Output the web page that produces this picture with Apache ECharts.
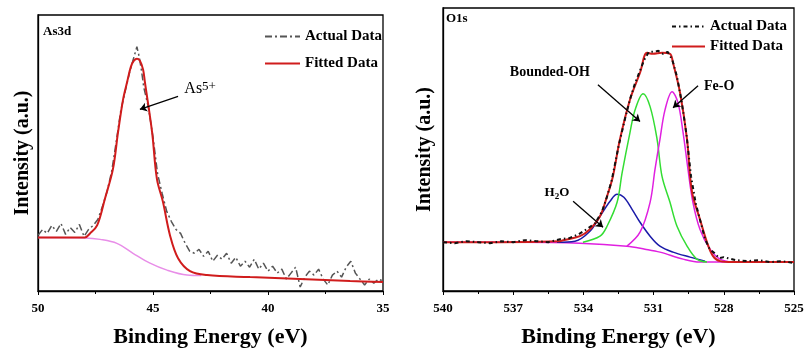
<!DOCTYPE html>
<html><head><meta charset="utf-8">
<script src="https://cdn.jsdelivr.net/npm/echarts@6/dist/echarts.min.js"></script>
<style>html,body{margin:0;padding:0;background:#fff}#c{width:808px;height:353px}</style>
</head><body><div id="c"></div>
<script>
// ---------- Left panel: As3d ----------
const asXTicks = [50, 45, 40, 35];
const asFitted = [[50.00,54],[48.61,54],[47.96,54],[47.74,58],[47.43,66],[47.09,93],[46.74,123],[46.52,160],[46.30,193],[46.13,210],[45.96,226],[45.83,232],[45.70,234],[45.57,232],[45.43,223],[45.35,210],[45.04,160],[44.83,113],[44.57,90],[44.26,56],[43.91,33],[43.39,20],[42.65,16],[40.78,14],[38.61,12],[36.43,10],[35.00,9]];
const asBackground = [[50.00,54],[47.96,53.5],[47.30,52],[46.57,48],[45.87,38],[45.13,28],[44.39,21],[43.52,16],[42.9,15.5]];
const asActual = [[50.0,56],[49.8,62],[49.6,58],[49.4,66],[49.2,60],[49.0,68],[48.8,57],[48.6,64],[48.4,59],[48.2,67],[48.0,55],[47.8,62],[47.6,66],[47.4,72],[47.2,85],[47.0,100],[46.8,120],[46.6,150],[46.4,182],[46.2,202],[46.0,222],[45.9,230],[45.8,238],[45.7,246],[45.6,236],[45.5,222],[45.4,205],[45.2,185],[45.0,155],[44.8,118],[44.6,98],[44.4,80],[44.2,70],[44.0,62],[43.8,58],[43.6,48],[43.4,40],[43.2,38],[43.0,42],[42.8,35],[42.6,40],[42.4,30],[42.2,36],[42.0,32],[41.8,38],[41.6,28],[41.4,34],[41.2,25],[41.0,30],[40.8,24],[40.6,32],[40.4,22],[40.2,28],[40.0,20],[39.8,25],[39.6,18],[39.4,22],[39.2,12],[39.0,18],[38.8,24],[38.6,4],[38.4,14],[38.2,20],[38.0,16],[37.8,22],[37.6,12],[37.4,6],[37.2,16],[37.0,20],[36.8,14],[36.6,24],[36.4,30],[36.2,18],[36.0,12],[35.8,6],[35.6,12],[35.4,8],[35.2,12],[35.0,10]];

// ---------- Right panel: O1s ----------
const oXTicks = [540, 537, 534, 531, 528, 525];
const oFitted = [[540,49],[537.56,49],[535.0,50],[534.87,51],[534.15,55],[533.72,62],[533.29,75],[532.99,95],[532.74,115],[532.44,152],[532.01,192],[531.58,219],[531.28,239],[531.03,238],[530.64,239],[530.30,238],[530.17,229],[529.87,199],[529.57,152],[529.44,115],[529.32,95],[529.02,72],[528.72,49],[528.46,35],[528.16,30],[527.61,29],[525,29]];
const oBackground = [[540,49],[536.71,49],[534.15,48],[532.14,45],[531.37,42],[530.73,39],[529.74,32],[529.02,29],[528.16,29],[525,29]];
const oH2O = [[535.13,49],[534.36,50],[533.72,60],[533.29,75],[532.86,90],[532.56,97],[532.27,94],[531.92,82],[531.58,69],[531.15,55],[530.73,45],[530.17,39],[529.44,34],[528.80,30]];
const oOH = [[534.02,49],[533.29,55],[532.99,65],[532.56,89],[532.35,118],[532.01,159],[531.79,182],[531.45,198],[531.15,185],[530.85,152],[530.64,115],[530.30,89],[530.00,65],[529.57,45],[529.15,32],[528.72,29]];
const oFeO = [[532.14,45],[531.58,59],[531.15,89],[530.94,122],[530.73,152],[530.51,182],[530.21,200],[529.96,189],[529.74,159],[529.53,122],[529.32,89],[529.02,62],[528.59,42],[528.16,32],[527.61,29]];
const oActual = [[540,49],[539.5,48],[539,50],[538.5,49],[538,48],[537.5,50],[537,49],[536.5,51],[536,50],[535.5,49],[535,52],[534.6,53],[534.2,57],[533.8,63],[533.5,68],[533.2,80],[533.0,94],[532.8,110],[532.5,145],[532.2,175],[532.0,193],[531.8,208],[531.6,220],[531.4,232],[531.2,240],[531.0,240],[530.8,241],[530.6,238],[530.4,240],[530.2,232],[530.0,215],[529.8,190],[529.6,158],[529.4,115],[529.2,88],[529.0,70],[528.8,52],[528.6,42],[528.4,38],[528.2,33],[528.0,34],[527.5,31],[527.0,30],[526.5,31],[526,29],[525.5,30],[525,28]];

const FONT = '"Liberation Serif", "Times New Roman", serif';
const RED = '#d01c1c';

function xAxisCfg(idx, min, max, interval) {
  return {
    gridIndex: idx, type: 'value', min: min, max: max, interval: interval, inverse: true,
    name: 'Binding Energy (eV)', nameLocation: 'middle', nameGap: 35,
    nameTextStyle: {fontFamily: FONT, fontWeight: 'bold', fontSize: 22, color: '#000'},
    axisLine: {show: true, onZero: false, lineStyle: {color: '#000', width: 1.3}},
    axisTick: {show: true, inside: false, length: 4, lineStyle: {color: '#000'}},
    minorTick: {show: true, splitNumber: 2, length: 3, lineStyle: {color: '#000'}},
    splitLine: {show: false},
    axisLabel: {fontFamily: FONT, fontWeight: 'bold', fontSize: 13, color: '#000', margin: 11,
      formatter: v => String(v)}
  };
}
function yAxisCfg(idx, max, gap) {
  return {
    gridIndex: idx, type: 'value', min: 0, max: max,
    name: 'Intensity (a.u.)', nameLocation: 'middle', nameGap: gap, nameRotate: 90,
    nameTextStyle: {fontFamily: FONT, fontWeight: 'bold', fontSize: 20, color: '#000'},
    axisLine: {show: true, lineStyle: {color: '#000', width: 1.3}},
    axisTick: {show: false}, axisLabel: {show: false}, splitLine: {show: false}
  };
}
function line(name, data, xi, color, width, extra) {
  return Object.assign({
    name: name, type: 'line', xAxisIndex: xi, yAxisIndex: xi, data: data,
    symbol: 'none', smooth: 0.35, animation: false,
    lineStyle: {color: color, width: width}, itemStyle: {color: color}
  }, extra || {});
}
const arrowLine = {symbol: ['none', 'arrow'], symbolSize: 7, silent: true, animation: false,
  lineStyle: {color: '#000', width: 1.3, type: 'solid'}, label: {show: false}};
function note(coord, text, size, bold, rich) {
  return {coord: coord, symbol: 'circle', symbolSize: 0,
    label: {show: true, position: 'inside', formatter: text, fontFamily: FONT, fontSize: size,
      fontWeight: bold ? 'bold' : 'normal', color: '#000', rich: rich || {}}};
}

const chart = echarts.init(document.getElementById('c'), null, {renderer: 'canvas'});
chart.setOption({
  animation: false,
  backgroundColor: '#fff',
  grid: [
    {left: 38, top: 15, width: 345, height: 278, show: true, borderColor: '#000', borderWidth: 1.3},
    {left: 443, top: 8, width: 351, height: 284, show: true, borderColor: '#000', borderWidth: 1.3}
  ],
  xAxis: [xAxisCfg(0, 35, 50, 5), xAxisCfg(1, 525, 540, 3)],
  yAxis: [yAxisCfg(0, 278, 5), yAxisCfg(1, 284, 8)],
  legend: [
    {orient: 'vertical', left: 259, top: 24, itemWidth: 35, itemHeight: 10, itemGap: 12,
      itemStyle: {opacity: 0},
      data: ['Actual Data', 'Fitted Data'],
      textStyle: {fontFamily: FONT, fontWeight: 'bold', fontSize: 15, color: '#000'}},
    {orient: 'vertical', left: 666, top: 14, itemWidth: 33, itemHeight: 10, itemGap: 5,
      itemStyle: {opacity: 0},
      data: ['Actual Data ', 'Fitted Data '],
      textStyle: {fontFamily: FONT, fontWeight: 'bold', fontSize: 15, color: '#000'}}
  ],
  graphic: [
    {type: 'text', left: 43, top: 25, style: {text: 'As3d', font: 'bold 13px ' + FONT, fill: '#000'}},
    {type: 'text', left: 446, top: 12, style: {text: 'O1s', font: 'bold 13px ' + FONT, fill: '#000'}}
  ],
  series: [
    line('bgAs', asBackground, 0, '#e88ee8', 1.5),
    line('Actual Data', asActual, 0, '#555', 1.5, {smooth: false, lineStyle: {color: '#555', width: 1.5, type: [7, 3, 2, 3]}}),
    line('Fitted Data', asFitted, 0, RED, 2, {
      markLine: Object.assign({data: [[{coord: [43.91, 196]}, {coord: [45.57, 183]}]]}, arrowLine),
      markPoint: {animation: false, data: [note([42.95, 204], 'As{s|5+}', 16, false, {s: {fontSize: 13, verticalAlign: 'top', lineHeight: 16, padding: [0,0,9,0], fontFamily: FONT}})]}
    }),
    line('bgO', oBackground, 1, '#e020e0', 1.5),
    line('H2O', oH2O, 1, '#1a1aa8', 1.5, {
      markLine: Object.assign({data: [[{coord: [534.44, 90]}, {coord: [533.16, 64]}]]}, arrowLine),
      markPoint: {animation: false, data: [note([535.13, 99], 'H{s|2}O', 13, true, {s: {fontSize: 9, fontWeight: 'bold', padding: [8,0,0,0], fontFamily: FONT}})]}
    }),
    line('OH', oOH, 1, '#33dd33', 1.5, {
      markLine: Object.assign({data: [[{coord: [533.38, 207]}, {coord: [531.58, 170]}]]}, arrowLine),
      markPoint: {animation: false, data: [note([535.43, 219], 'Bounded-OH', 14, true)]}
    }),
    line('FeO', oFeO, 1, '#e020e0', 1.5, {
      markLine: Object.assign({data: [[{coord: [529.10, 206]}, {coord: [530.17, 184]}]]}, arrowLine),
      markPoint: {animation: false, data: [note([528.2, 205], 'Fe-O', 14, true)]}
    }),
    line('Fitted Data ', oFitted, 1, RED, 2),
    line('Actual Data ', oActual, 1, '#111', 2, {smooth: false, lineStyle: {color: '#111', width: 2, type: [4, 3, 1.5, 3]}})
  ]
});
</script></body></html>
